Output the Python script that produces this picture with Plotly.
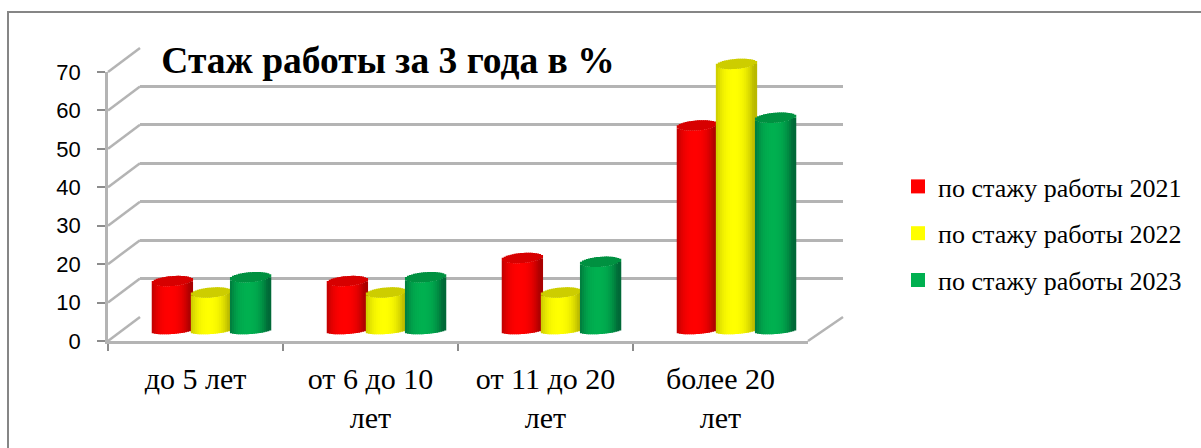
import numpy as np
import plotly.graph_objects as go

W, H = 1201, 448
CATEGORIES = ["до 5 лет", "от 6 до 10<br>лет", "от 11 до 20<br>лет", "более 20<br>лет"]
SERIES = ["по стажу работы 2021", "по стажу работы 2022", "по стажу работы 2023"]
V2021 = [13, 13, 19, 53.5]
V2022 = [10, 10, 10, 69.5]
V2023 = [14, 14, 18, 55.5]
TITLE = "Стаж работы за 3 года в %"
Y_TICKS = [0, 10, 20, 30, 40, 50, 60, 70]
CENTER = [(255, 0, 0), (255, 255, 0), (0, 176, 80)]
EDGE = [(170, 0, 0), (185, 185, 0), (0, 105, 55)]
CAP = [(215, 0, 0), (205, 205, 0), (0, 145, 65)]
LEGEND = ["#ff0000", "#ffff00", "#00b050"]
GRID = "#b4b4b4"


def fx(x):
    return x / W


def fy(y):
    return 1 - y / H


def rgb(c):
    return "rgb(%d,%d,%d)" % tuple(int(round(v)) for v in c)


fig = go.Figure()

# anchor trace so the back wall subplot (and its grid) is drawn
fig.add_trace(go.Scatter(x=[0, 1], y=[0, 0], mode="markers", marker=dict(opacity=0),
                         xaxis="x", yaxis="y", showlegend=False, hoverinfo="skip"))

# anchor trace for the front category axis
fig.add_trace(go.Scatter(x=CATEGORIES, y=[0, 0, 0, 0], mode="markers", marker=dict(opacity=0),
                         xaxis="x2", yaxis="y2", showlegend=False, hoverinfo="skip"))

# cylinder bars, built as narrow slices so they carry the side shading
N = 20
half = 0.114
step = 0.2235
unit = 269 / 70
e = 5 / unit
eb = 3 / unit
tilt = 1.5 / unit
edges = np.linspace(-1, 1, N + 1)
us = (edges[:-1] + edges[1:]) / 2
for k, vals in enumerate([V2021, V2022, V2023]):
    xs, bases, hs, cols = [], [], [], []
    for i, v in enumerate(vals):
        cx = i + (k - 1) * step
        for u in us:
            s = np.sqrt(1 - u * u)
            light = 1 - abs(u + 0.1) ** 2.4
            light = max(0, min(1, light))
            side = [EDGE[k][c] + (CENTER[k][c] - EDGE[k][c]) * light for c in range(3)]
            bottom = -eb * s + tilt * u
            top = v - e * s + tilt * u
            xs += [cx + u * half, cx + u * half]
            bases += [bottom, top]
            hs += [top - bottom, 2 * e * s]
            cols += [rgb(side), rgb(CAP[k])]
    fig.add_trace(go.Bar(x=xs, y=hs, base=bases, width=2 * half / N * 1.7,
                         marker=dict(color=cols, line=dict(width=0)), xaxis="x3", yaxis="y3",
                         showlegend=False, cliponaxis=False, hoverinfo="skip"))

for k, name in enumerate(SERIES):
    fig.add_trace(go.Scatter(x=[None], y=[None], mode="markers", name=name, legendgroup=name,
                             marker=dict(symbol="square", size=14, color=LEGEND[k]),
                             xaxis="x3", yaxis="y3"))

# frame and the depth edges of the 3D box
shapes = [dict(type="rect", xref="paper", yref="paper", x0=fx(8), x1=fx(1215), y0=fy(12), y1=fy(460),
               line=dict(color="#868686", width=2), layer="below")]
for v in Y_TICKS:
    y = 341 - v * unit
    shapes.append(dict(type="line", xref="paper", yref="paper", x0=fx(108), x1=fx(140),
                       y0=fy(y), y1=fy(y - 24), line=dict(color=GRID, width=2.5), layer="below"))
shapes.append(dict(type="line", xref="paper", yref="paper", x0=fx(808), x1=fx(843),
                   y0=fy(341), y1=fy(317), line=dict(color=GRID, width=2.5), layer="below"))

serif = "Liberation Serif"
fig.update_layout(
    width=W, height=H, margin=dict(l=0, r=0, t=0, b=0),
    paper_bgcolor="white", plot_bgcolor="rgba(0,0,0,0)", barmode="overlay",
    shapes=shapes,
    title=dict(text="<b>" + TITLE + "</b>", x=fx(388), xanchor="center", y=fy(60), yanchor="middle",
               font=dict(family=serif, size=37.5, color="black")),
    legend=dict(x=fx(898), y=fy(163), xanchor="left", yanchor="top", tracegroupgap=10,
                font=dict(family=serif, size=26, color="black"), bgcolor="rgba(0,0,0,0)", itemwidth=30),
    # back wall
    xaxis=dict(domain=[fx(140), fx(843)], range=[0, 1], anchor="y", visible=False),
    yaxis=dict(domain=[fy(317), fy(48)], range=[0, 70], anchor="x", tickvals=Y_TICKS, showgrid=True,
               gridcolor=GRID, gridwidth=2.5, showticklabels=False, ticks="", showline=False, zeroline=False),
    # front axes
    xaxis2=dict(domain=[fx(108), fx(808)], anchor="y2", type="category", categoryorder="array",
                categoryarray=CATEGORIES, range=[-0.5, 3.5], tickson="boundaries", ticks="outside", ticklen=7,
                tickcolor="#8c8c8c", tickwidth=2, showline=True, linecolor=GRID, linewidth=2.5, showgrid=False,
                ticklabelstandoff=9, tickfont=dict(family=serif, size=30, color="black"), automargin=False),
    yaxis2=dict(domain=[fy(341), fy(72)], anchor="x2", range=[0, 70], tickvals=Y_TICKS, ticks="outside",
                ticklen=8, tickcolor="#8c8c8c", tickwidth=2, showline=True, linecolor=GRID, linewidth=2.5,
                showgrid=False, zeroline=False, ticklabelstandoff=12,
                tickfont=dict(family="Liberation Sans", size=22, color="black"), automargin=False),
    # cylinder axes, half way into the depth of the box; the range leaves room for the rounded ends
    xaxis3=dict(domain=[fx(124), fx(824)], range=[-0.5, 3.5], anchor="y3", visible=False),
    yaxis3=dict(domain=[fy(331 + 5 * unit), fy(331 - 75 * unit)], range=[-5, 75], anchor="x3", visible=False),
)
fig.write_html("out.html", post_script="document.body.style.margin='0';", config=dict(displayModeBar=False))
